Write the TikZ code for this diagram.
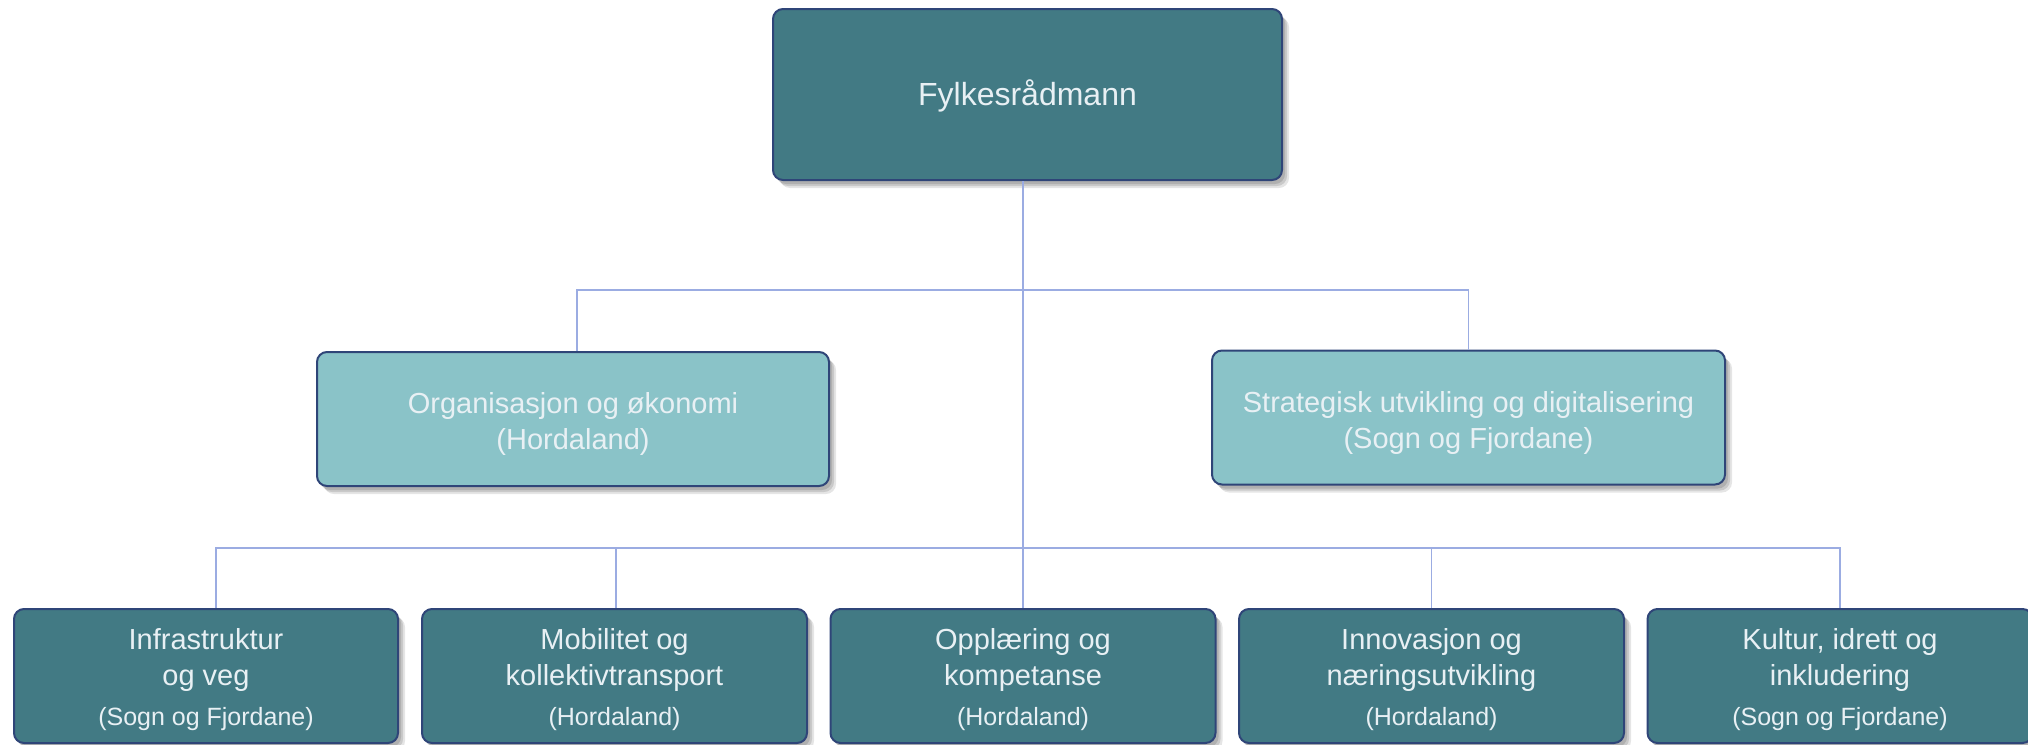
\documentclass[tikz,border=0pt]{standalone}
\usepackage{fontspec}
\setmainfont{Liberation Sans}
\usetikzlibrary{shadows}
\definecolor{darkteal}{RGB}{66,122,132}
\definecolor{lightteal}{RGB}{138,195,200}
\definecolor{boxborder}{RGB}{47,69,120}
\definecolor{conn}{RGB}{155,172,226}
\definecolor{boxtext}{RGB}{232,240,244}
\tikzset{
  softshadow/.style={
    drop shadow={shadow xshift=3pt, shadow yshift=-4pt, opacity=0.12, fill=black},
    drop shadow={shadow xshift=5pt, shadow yshift=-6pt, opacity=0.12, fill=black},
    drop shadow={shadow xshift=7pt, shadow yshift=-8pt, opacity=0.10, fill=black}},
  basebox/.style={rectangle, rounded corners=10pt, line width=2pt, draw=boxborder,
    inner sep=0pt, softshadow},
  txt/.style={align=center, text=boxtext, inner sep=0pt},
  toptxt/.style={txt, font=\fontsize{32}{38}\selectfont},
  midtxt/.style={txt, font=\fontsize{29}{36}\selectfont},
  topbox/.style={basebox, fill=darkteal, minimum width=509pt, minimum height=171pt},
  midbox/.style={basebox, fill=lightteal, minimum width=512pt, minimum height=134pt},
  lowbox/.style={basebox, fill=darkteal, minimum width=385pt, minimum height=134pt},
  connline/.style={draw=conn, line width=1.2pt}
}
\newcommand{\regiontext}[1]{{\fontsize{25}{30}\selectfont #1}}
\begin{document}
\begin{tikzpicture}[x=1pt,y=-1pt]
\useasboundingbox (0,0) rectangle (2028,744);
\fill[white] (0,0) rectangle (2028,744);

\node[topbox, label={[toptxt, yshift=-1pt]center:Fylkesrådmann}] (fr) at (1027.5,94.5) {};
\node[midbox, label={[midtxt, yshift=-5pt]center:Organisasjon og økonomi\\(Hordaland)}] (org) at (573,419) {};
\node[midbox, minimum width=513pt, label={[midtxt, yshift=-5pt]center:Strategisk utvikling og digitalisering\\(Sogn og Fjordane)}] (strat) at (1468.5,417.5) {};

\node[lowbox, minimum width=384pt, label={[midtxt, yshift=-4pt]center:Infrastruktur\\og veg\\[4pt]\regiontext{(Sogn og Fjordane)}}] (b1) at (206,676) {};
\node[lowbox, label={[midtxt, yshift=-4pt]center:Mobilitet og\\kollektivtransport\\[4pt]\regiontext{(Hordaland)}}] (b2) at (614.5,676) {};
\node[lowbox, label={[midtxt, yshift=-4pt]center:Opplæring og\\kompetanse\\[4pt]\regiontext{(Hordaland)}}] (b3) at (1023,676) {};
\node[lowbox, label={[midtxt, yshift=-4pt]center:Innovasjon og\\næringsutvikling\\[4pt]\regiontext{(Hordaland)}}] (b4) at (1431.5,676) {};
\node[lowbox, label={[midtxt, yshift=-4pt]center:Kultur, idrett og\\inkludering\\[4pt]\regiontext{(Sogn og Fjordane)}}] (b5) at (1840,676) {};

\coordinate (bus1) at (1023,290);
\coordinate (bus2) at (1023,548);

\draw[connline] (fr.south -| b3.north) -- (b3.north);
\draw[connline] ([xshift=4pt]org.north) |- (bus1) -| (strat.north);
\draw[connline] ([xshift=10pt]b1.north) |- (bus2) -| (b5.north);
\draw[connline] ([xshift=1.5pt]b2.north) -- ([xshift=1.5pt]b2.north |- bus2);
\draw[connline] (b4.north) -- (b4.north |- bus2);
\end{tikzpicture}
\end{document}
